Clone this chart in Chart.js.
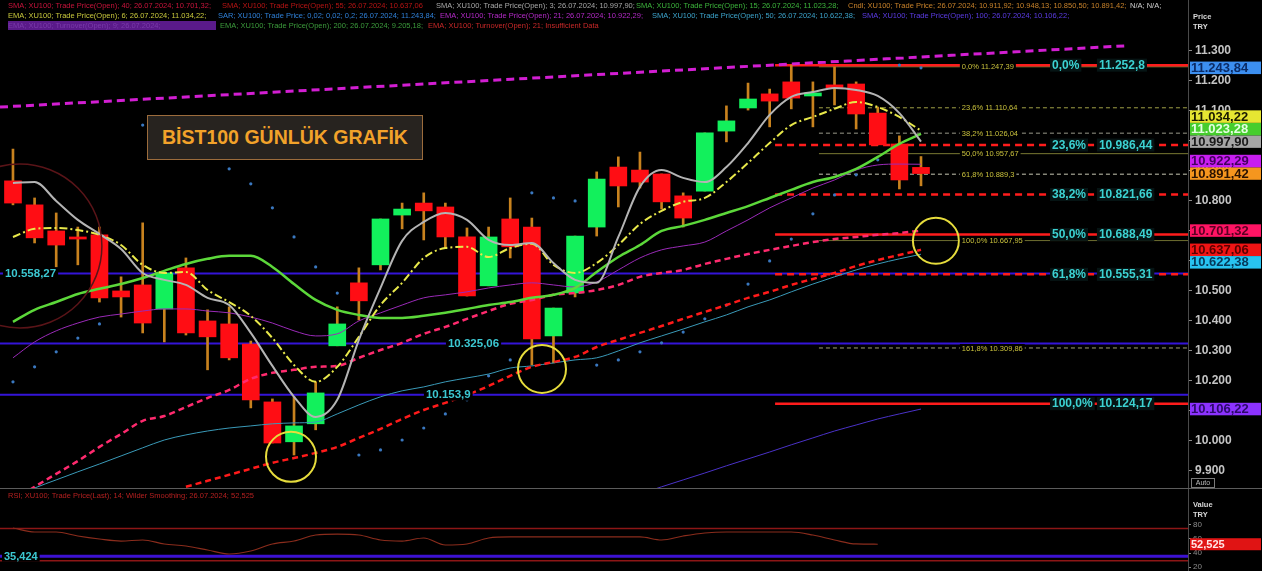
<!DOCTYPE html>
<html>
<head>
<meta charset="utf-8">
<title>BIST100 Günlük</title>
<script src="https://cdn.jsdelivr.net/npm/chart.js@4.4.1/dist/chart.umd.min.js"></script>
<style>
  html, body { margin: 0; padding: 0; background: #000; }
  #wrap { position: relative; width: 1262px; height: 571px; overflow: hidden; background: #000; font-family: "Liberation Sans", Arial, sans-serif; }
  canvas { position: absolute; left: 0; }
  #price { top: 0; }
  #rsi { top: 489px; }
  #sep { position: absolute; left: 0; top: 488px; width: 1262px; height: 1px; background: #5c5c5c; }
  .row { position: absolute; left: 0; width: 1188px; height: 9px; font-size: 7.5px; line-height: 9px; white-space: nowrap; }
  .row span { position: absolute; top: 0; }
  #title { position: absolute; left: 147px; top: 115px; width: 274px; height: 43px; background: #27231f; border: 1px solid #9c6c3c; color: #f2a22a; font: bold 19.5px "Liberation Sans", Arial, sans-serif; line-height: 43px; text-align: center; }
  .axt { position: absolute; left: 1193px; font: bold 7.5px "Liberation Sans", Arial, sans-serif; color: #d8d8d8; }
  #auto { position: absolute; left: 1191px; top: 478px; width: 22px; height: 8px; border: 1px solid #7a7a7a; font-size: 7px; line-height: 8px; color: #bbb; text-align: center; }
</style>
</head>
<body>
<div id="wrap">
  <canvas id="price" width="1262" height="488"></canvas>
  <div id="sep"></div>
  <canvas id="rsi" width="1262" height="82"></canvas>

  <div class="row" style="top:1px">
    <span style="left:8px;color:#c8143c">SMA; XU100; Trade Price(Open); 40; 26.07.2024; 10.701,32;</span>
    <span style="left:222px;color:#b81414">SMA; XU100; Trade Price(Open); 55; 26.07.2024; 10.637,06</span>
    <span style="left:436px;color:#a8a8a8">SMA; XU100; Trade Price(Open); 3; 26.07.2024; 10.997,90;</span>
    <span style="left:636px;color:#3cb43c">SMA; XU100; Trade Price(Open); 15; 26.07.2024; 11.023,28;</span>
    <span style="left:848px;color:#c8822a">Cndl; XU100; Trade Price; 26.07.2024; 10.911,92; 10.948,13; 10.850,50; 10.891,42;</span>
    <span style="left:1130px;color:#d0d0d0">N/A; N/A;</span>
  </div>
  <div class="row" style="top:11px">
    <span style="left:8px;color:#c8c83c">EMA; XU100; Trade Price(Open); 6; 26.07.2024; 11.034,22;</span>
    <span style="left:218px;color:#2f80d8">SAR; XU100; Trade Price; 0,02; 0,02; 0,2; 26.07.2024; 11.243,84;</span>
    <span style="left:440px;color:#b42ac8">EMA; XU100; Trade Price(Open); 21; 26.07.2024; 10.922,29;</span>
    <span style="left:652px;color:#3ca4cc">SMA; XU100; Trade Price(Open); 50; 26.07.2024; 10.622,38;</span>
    <span style="left:862px;color:#5c3ce6">SMA; XU100; Trade Price(Open); 100; 26.07.2024; 10.106,22;</span>
  </div>
  <div class="row" style="top:21px">
    <span style="left:8px;width:208px;background:#5a1a8a;color:#7a3aaa">EMA; XU100; Turnover(Open); 9; 26.07.2024;</span>
    <span style="left:220px;color:#3c9c3c">EMA; XU100; Trade Price(Open); 200; 26.07.2024; 9.205,18;</span>
    <span style="left:428px;color:#c82828">EMA; XU100; Turnover(Open); 21; Insufficient Data</span>
  </div>
  <div class="row" style="top:491px">
    <span style="left:8px;color:#b42020">RSI; XU100; Trade Price(Last); 14; Wilder Smoothing; 26.07.2024; 52,525</span>
  </div>

  <div id="title">BİST100 GÜNLÜK GRAFİK</div>
  <div class="axt" style="top:12px">Price</div>
  <div class="axt" style="top:22px">TRY</div>
  <div id="auto">Auto</div>
  <div class="axt" style="top:500px">Value</div>
  <div class="axt" style="top:510px">TRY</div>
</div>

<script>
// ---- candles (daily, XU100) ----
const candleOpen  = [10867,10787,10700,10680,10687,10500,10520,10440,10577,10400,10390,10323,10130,9997,10057,10317,10527,10587,10753,10793,10780,10680,10517,10740,10713,10350,10493,10713,10913,10903,10890,10817,10833,11033,11110,11157,11197,11150,11187,11190,11093,10990,10911.92]
const candleHigh  = [10973,10810,10760,10713,10713,10547,10727,10563,10610,10437,10447,10333,10140,10147,10197,10447,10577,10740,10793,10827,10793,10710,10713,10810,10743,10443,10683,10897,10947,10963,10890,10827,11027,11117,11193,11173,11253,11197,11247,11197,11113,11017,10948.13]
const candleLow   = [10787,10660,10580,10587,10463,10413,10360,10330,10353,10237,10270,10110,9993,9953,10037,10317,10403,10570,10707,10670,10643,10483,10517,10610,10253,10260,10480,10683,10780,10843,10773,10713,10833,10997,11103,11047,11107,11047,11120,11040,10987,10840,10850.5]
const candleClose = [10793,10677,10653,10673,10477,10480,10393,10560,10360,10347,10277,10137,9993,10050,10160,10390,10467,10740,10773,10767,10680,10483,10680,10647,10340,10443,10683,10873,10850,10863,10797,10743,11027,11067,11140,11133,11143,11160,11177,11090,10987,10870,10891.42]

// ---- moving averages ----
const sma3  = [10860,10863,10800,10737,10690,10640,10560,10537,10520,10477,10453,10360,10250,10147,10080,10137,10337,10510,10667,10730,10760,10737,10670,10653,10660,10593,10537,10527,10680,10847,10903,10877,10863,10913,10993,11087,11147,11163,11177,11170,11150,11093,10997.9]
const ema6  = [10680,10707,10710,10703,10687,10653,10587,10560,10563,10503,10463,10417,10343,10253,10197,10247,10347,10453,10527,10610,10643,10647,10613,10643,10657,10587,10560,10593,10653,10723,10767,10797,10810,10863,10927,10993,11053,11080,11107,11130,11113,11080,11034.22]
const sma15 = [10397,10437,10463,10490,10507,10523,10543,10567,10590,10607,10617,10617,10580,10523,10470,10437,10420,10410,10410,10417,10427,10440,10453,10463,10477,10487,10510,10563,10613,10653,10700,10717,10737,10760,10783,10810,10837,10863,10880,10907,10947,10990,11023.28]
const ema21 = [10277,10330,10367,10393,10413,10423,10433,10440,10440,10433,10427,10413,10393,10367,10350,10357,10400,10427,10453,10477,10487,10497,10510,10520,10527,10520,10513,10530,10570,10610,10637,10650,10663,10700,10737,10777,10810,10843,10870,10903,10920,10923,10922.29]
const sma40 = [9800,9847,9890,9933,9980,10023,10067,10083,10113,10143,10170,10207,10227,10237,10247,10250,10277,10303,10327,10357,10380,10407,10433,10457,10470,10487,10493,10503,10520,10547,10560,10570,10590,10607,10623,10637,10650,10663,10673,10680,10687,10693,10701.32]
const sma55 = [null,null,null,null,null,null,null,null,9847,9867,9887,9907,9927,9943,9960,9980,10010,10040,10073,10103,10127,10153,10183,10217,10247,10263,10280,10313,10337,10360,10383,10407,10430,10453,10477,10497,10520,10540,10560,10583,10603,10620,10637.06]
const sma50 = [9810,9843,9870,9897,9923,9950,9977,10003,10020,10033,10043,10050,10057,10060,10063,10090,10120,10147,10167,10180,10197,10210,10223,10243,10250,10260,10270,10277,10300,10327,10350,10373,10397,10420,10447,10470,10497,10523,10547,10570,10590,10607,10622.38]
const sma100 = [null,null,null,null,null,null,null,null,null,null,null,null,null,null,null,null,null,null,null,null,null,null,null,null,null,null,null,null,null,9823,9847,9870,9893,9917,9940,9963,9987,10010,10033,10053,10073,10090,10106.22]
const sar = [10197,10247,10297,10343,10390,null,11053,11020,10977,10943,10907,10857,10777,10680,10580,10493,9953,9970,10003,10043,10090,10137,10217,10270,10827,10810,10800,10253,10270,10297,10327,10363,10407,10453,10523,10600,10673,10757,10820,10887,10937,11253,11243.84]

// ---- RSI(14) ----
const rsi = [75.7,70,70,64.3,60,57.1,58.6,52.9,50,44.3,38.6,42.9,52.9,57.1,65.7,67.1,65.7,58.6,57.1,61.4,51.4,52.9,61.4,62.9,62.9,62.9,62.9,62.9,62.9,62.9,58.6,64.3,68.6,70,70,70,70,65.7,58.6,52.9,52.525]
const rsiBands = [75, 29]
const rsiMark = 35.424
const rsiTicks = [20, 40, 60, 80]

// ---- drawn levels ----
const priceTicks = [9900,10000,10100,10200,10300,10400,10500,10600,10700,10800,10900,11000,11100,11200,11300]
const blueLevels = [10558.27, 10325.06, 10153.9]
const blueLabelAt = [-0.37, 20.12, 19.1]
const fibALevels = [11252.8, 10986.44, 10821.66, 10688.49, 10555.31, 10124.17]
const fibAPct = ['0,0%', '23,6%', '38,2%', '50,0%', '61,8%', '100,0%']
const fibBLevels = [11247.39, 11110.64, 11026.04, 10957.67, 10889.3, 10667.95, 10309.86]
const fibBPct = ['0,0%', '23,6%', '38,2%', '50,0%', '61,8%', '100,0%', '161,8%']
const trendX = [-0.6, 51.4]
const trendY = [11113, 11317]
const circleAt = [12.86, 24.47, 42.69, 0.32]
const circlePrice = [9947, 10240, 10667, 10650]
// axis tags, in the order the platform places them
const tagValues = [10701.32, 10637.06, 10997.90, 11023.28, 10891.42, 11034.22, 11243.84, 10922.29, 10622.38, 10106.22]

// ---- styles ----
const X_MIN = -0.6, X_MAX = 54.35
const PRICE_MIN = 9843, PRICE_MAX = 11470
const RSI_MIN = 14.3, RSI_MAX = 131.4
const FIB_A_FROM = 35.25, FIB_B_FROM = 37.28
const FIB_A_PCT_AT = 48.06, FIB_A_VAL_AT = 50.23, FIB_B_TXT_AT = 43.89
const UP = '#12f05c', DOWN = '#ff0d14', WICK = '#c8821e'
const fibADash = [[], [7, 5], [7, 5], [], [7, 5], []]
const fibBColor = ['#8c8c3c', '#a0a046', '#9a9a8a', '#7a7a32', '#c8c8b4', '#6e6e30', '#a0a07a']
const fibBDash = [[], [4, 3], [4, 3], [], [4, 3], [], [4, 3]]
const circleColor = ['#e6dc3c', '#e6dc3c', '#e6dc3c', '#5a1418']
const circleRadius = [25, 24, 23, 82]
const tagBg = ['#ff1464', '#f01414', '#a5a5a5', '#46cd2d', '#f5961e', '#e6e632', '#3c8ff0', '#c81ef0', '#28c3f0', '#8c32ff']
const tagFg = ['#5a0022', '#5a0000', '#1a1a1a', '#e4ffe0', '#2a1200', '#1a1a00', '#0c2c66', '#44005e', '#063a5a', '#2c0a6a']

Chart.defaults.font.family = '"Liberation Sans", Arial, sans-serif'

// turkish number text: 10.986,44
function tr(v, minD, maxD) {
  let s = v.toFixed(maxD)
  if (s.includes('.') && minD < maxD) s = s.replace(/0+$/, '').replace(/\.$/, '')
  let [whole, dec] = s.split('.')
  whole = whole.replace(/\B(?=(\d{3})+(?!\d))/g, '.')
  return dec ? whole + ',' + dec : whole
}

const pts = arr => arr.map((v, i) => ({ x: i, y: v }))
const hseg = (v, from) => [{ x: from, y: v }, { x: X_MAX, y: v }]

function lineSet(data, color, width, dash, order) {
  return { type: 'line', data, borderColor: color, borderWidth: width, borderDash: dash, pointRadius: 0,
    cubicInterpolationMode: 'monotone', fill: false, order }
}

function tag(ctx, text, px, py, font, color, bg, h) {
  ctx.font = font
  const w = ctx.measureText(text).width
  if (bg) { ctx.fillStyle = bg; ctx.fillRect(px - 2, py - h / 2, w + 4, h) }
  ctx.fillStyle = color
  ctx.textAlign = 'left'
  ctx.textBaseline = 'middle'
  ctx.fillText(text, px, py + 0.5)
}

// greedy placement: each tag at its price, or the nearest free slot next to one already placed
function placeTags(ideals, h) {
  const placed = []
  return ideals.map(p => {
    const free = q => placed.every(o => Math.abs(o - q) >= h - 0.01)
    let best = p
    if (!free(p)) {
      const cands = []
      placed.forEach(o => cands.push(o - h, o + h))
      best = cands.filter(free).sort((a, b) => Math.abs(a - p) - Math.abs(b - p))[0]
    }
    placed.push(best)
    return best
  })
}

const idx = candleOpen.map((_, i) => i)
const wickData = idx.map(i => ({ x: i, y: [candleLow[i], candleHigh[i]] }))
const bodyData = idx.map(i => ({ x: i, y: [candleOpen[i], candleClose[i]] }))
const bodyColor = idx.map(i => candleClose[i] >= candleOpen[i] ? UP : DOWN)

const datasets = [
  lineSet(pts(sma3), '#b4b4b4', 2, [], 1),
  lineSet(pts(ema6), '#e8e84a', 2, [8, 3, 2, 3], 2),
  lineSet(pts(sma15), '#5cd83a', 2.5, [], 3),
  lineSet(pts(ema21), '#9a2ab8', 1, [], 4),
  lineSet(pts(sma40), '#ff2a6e', 2.5, [6, 4], 5),
  lineSet(pts(sma55), '#ff1a1a', 2.5, [6, 4], 6),
  lineSet(pts(sma50), '#3a9ab8', 1, [], 7),
  lineSet(pts(sma100), '#4a32c8', 1, [], 8),
  { type: 'line', data: pts(sar), showLine: false, pointRadius: 1.6, pointHoverRadius: 0, pointBorderWidth: 0,
    pointBackgroundColor: '#3a78c0', order: 9 },
  { type: 'bar', data: bodyData, backgroundColor: bodyColor, barThickness: 17, grouped: false, minBarLength: 2, order: 10 },
  { type: 'bar', data: wickData, backgroundColor: WICK, barThickness: 2, grouped: false, order: 11 },
  lineSet([{ x: trendX[0], y: trendY[0] }, { x: trendX[1], y: trendY[1] }], '#d21ed2', 3, [8, 5], 12)
]
fibALevels.forEach((v, k) => datasets.push(lineSet(hseg(v, FIB_A_FROM), '#ff1c1c', 2.5, fibADash[k], 13)))
fibBLevels.forEach((v, k) => datasets.push(lineSet(hseg(v, FIB_B_FROM), fibBColor[k], 1, fibBDash[k], 14)))
blueLevels.forEach(v => datasets.push(lineSet(hseg(v, X_MIN), '#3414d8', 2, [], 15)))

const priceOverlay = {
  id: 'priceOverlay',
  afterDatasetsDraw(chart) {
    const { ctx, chartArea: a, scales: { x, y } } = chart
    ctx.save()
    ctx.beginPath()
    ctx.rect(a.left, a.top, a.width, a.height)
    ctx.clip()

    circleAt.forEach((c, k) => {
      ctx.beginPath()
      ctx.strokeStyle = circleColor[k]
      ctx.lineWidth = k < 3 ? 2 : 1.5
      ctx.arc(x.getPixelForValue(c), y.getPixelForValue(circlePrice[k]), circleRadius[k], 0, Math.PI * 2)
      ctx.stroke()
    })

    blueLevels.forEach((v, k) => {
      tag(ctx, tr(v, 0, 2), x.getPixelForValue(blueLabelAt[k]), y.getPixelForValue(v),
        'bold 11.5px "Liberation Sans"', '#3cc8d2', '#000', 12)
    })

    fibBLevels.forEach((v, k) => {
      tag(ctx, fibBPct[k] + ' ' + tr(v, 0, 2), x.getPixelForValue(FIB_B_TXT_AT), y.getPixelForValue(v),
        '7.5px "Liberation Sans"', '#c8c03c', '#000', 8)
    })

    fibALevels.forEach((v, k) => {
      const py = y.getPixelForValue(v)
      tag(ctx, fibAPct[k], x.getPixelForValue(FIB_A_PCT_AT), py, 'bold 12px "Liberation Sans"', '#3cd2d2', '#061414', 13)
      tag(ctx, tr(v, 0, 2), x.getPixelForValue(FIB_A_VAL_AT), py, 'bold 12px "Liberation Sans"', '#3cd2d2', '#061414', 13)
    })
    ctx.restore()
  },
  afterDraw(chart) {
    const { ctx, scales: { y } } = chart
    const h = 12.5
    const slots = placeTags(tagValues.map(v => y.getPixelForValue(v)), h)
    ctx.save()
    tagValues.forEach((v, k) => {
      ctx.fillStyle = tagBg[k]
      ctx.fillRect(y.left + 2, slots[k] - h / 2, 71, h)
      ctx.fillStyle = tagFg[k]
      ctx.font = 'bold 13px "Liberation Sans"'
      ctx.textAlign = 'left'
      ctx.textBaseline = 'middle'
      ctx.fillText(tr(v, 2, 2), y.left + 3, slots[k] + 0.5)
    })
    ctx.restore()
  }
}

new Chart(document.getElementById('price'), {
  type: 'bar',
  data: { datasets },
  options: {
    responsive: false,
    animation: false,
    events: [],
    devicePixelRatio: 1,
    layout: { padding: 0, autoPadding: false },
    plugins: { legend: { display: false }, tooltip: { enabled: false } },
    scales: {
      x: { type: 'linear', min: X_MIN, max: X_MAX, display: false, offset: false },
      y: {
        position: 'right', min: PRICE_MIN, max: PRICE_MAX,
        afterBuildTicks: s => { s.ticks = priceTicks.map(v => ({ value: v })) },
        afterFit: s => { s.width = 74; s.paddingTop = 0; s.paddingBottom = 0 },
        ticks: { color: '#c4c4c4', font: { size: 12, weight: 'bold' }, padding: 3, callback: v => tr(v, 0, 0) },
        grid: { drawOnChartArea: false, drawTicks: true, tickLength: 4, tickColor: '#8a8a8a' },
        border: { color: '#4a4a4a' }
      }
    }
  },
  plugins: [priceOverlay]
})

// ---- RSI panel ----
const rsiOverlay = {
  id: 'rsiOverlay',
  afterDatasetsDraw(chart) {
    const { ctx, scales: { x, y } } = chart
    tag(ctx, tr(rsiMark, 3, 3), x.getPixelForValue(X_MIN) + 4, y.getPixelForValue(rsiMark),
      'bold 11px "Liberation Sans"', '#3cc8d2', '#000', 11)
  },
  afterDraw(chart) {
    const { ctx, scales: { y } } = chart
    const last = rsi[rsi.length - 1]
    const py = y.getPixelForValue(last)
    ctx.save()
    ctx.fillStyle = '#e01414'
    ctx.fillRect(y.left + 2, py - 6, 71, 12)
    ctx.fillStyle = '#ffe6e6'
    ctx.font = 'bold 11px "Liberation Sans"'
    ctx.textBaseline = 'middle'
    ctx.fillText(tr(last, 3, 3), y.left + 3, py + 0.5)
    ctx.restore()
  }
}

new Chart(document.getElementById('rsi'), {
  type: 'line',
  data: {
    datasets: [
      lineSet(pts(rsi), '#8a2c1c', 1.2, [], 1),
      lineSet(hseg(rsiBands[0], X_MIN), '#8c1616', 1.5, [], 2),
      lineSet(hseg(rsiBands[1], X_MIN), '#8c1616', 1.5, [], 3),
      lineSet(hseg(rsiMark, X_MIN), '#3c12d2', 3, [], 4)
    ]
  },
  options: {
    responsive: false,
    animation: false,
    events: [],
    devicePixelRatio: 1,
    layout: { padding: 0, autoPadding: false },
    plugins: { legend: { display: false }, tooltip: { enabled: false } },
    scales: {
      x: { type: 'linear', min: X_MIN, max: X_MAX, display: false },
      y: {
        position: 'right', min: RSI_MIN, max: RSI_MAX,
        afterBuildTicks: s => { s.ticks = rsiTicks.map(v => ({ value: v })) },
        afterFit: s => { s.width = 74; s.paddingTop = 0; s.paddingBottom = 0 },
        ticks: { color: '#8c8c8c', font: { size: 8 }, padding: 2 },
        grid: { drawOnChartArea: false, drawTicks: true, tickLength: 3, tickColor: '#8a8a8a' },
        border: { color: '#4a4a4a' }
      }
    }
  },
  plugins: [rsiOverlay]
})
</script>
</body>
</html>
